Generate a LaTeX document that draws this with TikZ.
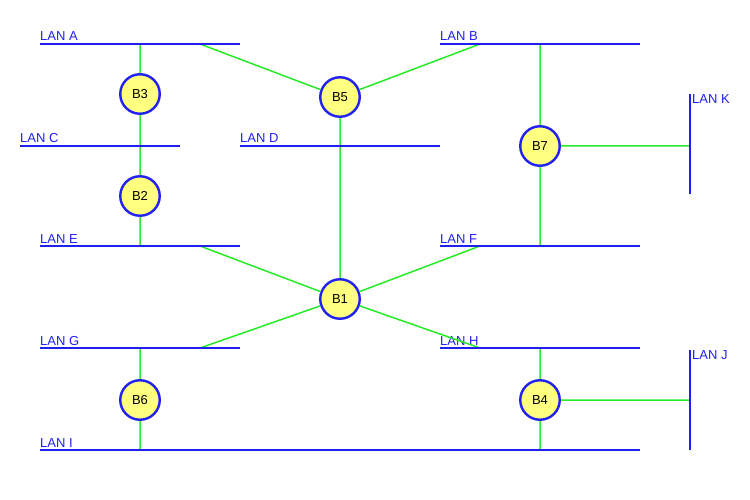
\documentclass[tikz,border=0pt]{standalone}
\usepackage{fontspec}
\setmainfont{Liberation Sans}
\begin{document}
\definecolor{lanblue}{RGB}{32,32,240}
\definecolor{linkgreen}{RGB}{40,235,40}
\definecolor{bridgefill}{RGB}{255,255,128}
\begin{tikzpicture}[x=1pt,y=-1pt,
  lan/.style={draw=lanblue,line width=2pt},
  link/.style={draw=linkgreen,line width=1.5pt},
  bridge/.style={circle,draw=lanblue,fill=bridgefill,line width=2.4pt,
    minimum size=39.5pt,inner sep=0pt,font=\fontsize{13}{15}\selectfont},
  lanlabel/.style={text=lanblue,inner sep=0pt,font=\fontsize{13}{15}\selectfont}]
\useasboundingbox (0,0) rectangle (750,500);

% LAN segments: left end, right end, label
\foreach \n/\xa/\xb/\y in {A/40/240/44, B/440/640/44, C/20/180/146, D/240/440/146,
                          E/40/240/246, F/440/640/246, G/40/240/348, H/440/640/348, I/40/640/450}{
  \coordinate (lan\n-w) at (\xa,\y);
  \coordinate (lan\n-e) at (\xb,\y);
  \node[lanlabel,anchor=base west] (lbl\n) at (\xa,\y-3) {LAN \n};
}
% vertical LANs
\coordinate (lanK-n) at (690,94);  \coordinate (lanK-s) at (690,194);
\coordinate (lanJ-n) at (690,350); \coordinate (lanJ-s) at (690,450);
\node[lanlabel,anchor=north west] (lblK) at (692,94) {LAN K};
\node[lanlabel,anchor=north west] (lblJ) at (692,350) {LAN J};

% tap points where links meet the LANs
\coordinate (tA1) at (140,44);  \coordinate (tA2) at (200,44);
\coordinate (tB1) at (480,44);  \coordinate (tB2) at (540,44);
\coordinate (tC)  at (140,146); \coordinate (tD)  at (340,146);
\coordinate (tE1) at (140,246); \coordinate (tE2) at (200,246);
\coordinate (tF1) at (480,246); \coordinate (tF2) at (540,246);
\coordinate (tG1) at (140,348); \coordinate (tG2) at (200,348);
\coordinate (tH1) at (480,348); \coordinate (tH2) at (540,348);
\coordinate (tI1) at (140,450); \coordinate (tI2) at (540,450);
\coordinate (tK)  at (690,146); \coordinate (tJ)  at (690,400);

% bridges
\node[bridge] (B3) at (140,94)  {B3};
\node[bridge] (B5) at (340,97)  {B5};
\node[bridge] (B2) at (140,196) {B2};
\node[bridge] (B7) at (540,146) {B7};
\node[bridge] (B1) at (340,299) {B1};
\node[bridge] (B6) at (140,400) {B6};
\node[bridge] (B4) at (540,400) {B4};

% links from each bridge to the LANs it joins
\path[link] (B3) -- (tA1) (B3) -- (tC)
            (B2) -- (tC)  (B2) -- (tE1)
            (B5) -- (tA2) (B5) -- (tB1) (B5) -- (tD) (tD) -- (B1)
            (B7) -- (tB2) (B7) -- (tF2) (B7) -- (tK)
            (B1) -- (tE2) (B1) -- (tF1) (B1) -- (tG2) (B1) -- (tH1)
            (B6) -- (tG1) (B6) -- (tI1)
            (B4) -- (tH2) (B4) -- (tI2) (B4) -- (tJ);

% LAN lines
\foreach \n in {A,B,C,D,E,F,G,H,I}{
  \path[lan] (lan\n-w) -- (lan\n-e);
}
\path[lan] (lanK-n) -- (lanK-s);
\path[lan] (lanJ-n) -- (lanJ-s);
\end{tikzpicture}
\end{document}
